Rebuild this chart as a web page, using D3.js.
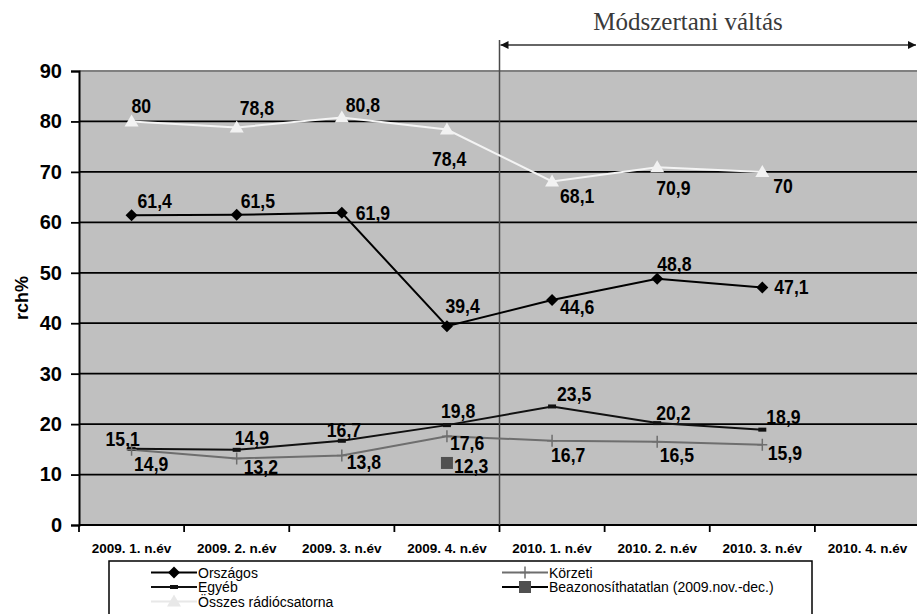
<!DOCTYPE html>
<html>
<head>
<meta charset="utf-8">
<script src="https://cdn.jsdelivr.net/npm/d3@7/dist/d3.min.js"></script>
<style>
  html, body { margin: 0; padding: 0; background: #fff; }
  svg { display: block; font-family: "Liberation Sans", Arial, sans-serif; }
</style>
</head>
<body>
<svg id="chart" width="917" height="614"></svg>
<script>
// Quarter-year periods on the x axis
const categories = ["2009. 1. n.év", "2009. 2. n.év", "2009. 3. n.év", "2009. 4. n.év",
                    "2010. 1. n.év", "2010. 2. n.év", "2010. 3. n.év", "2010. 4. n.év"];
const yTicks = [0, 10, 20, 30, 40, 50, 60, 70, 80, 90];

// Reach (rch%) per series; null = no data for that period
const osszes    = [80, 78.8, 80.8, 78.4, 68.1, 70.9, 70, null];
const orszagos  = [61.4, 61.5, 61.9, 39.4, 44.6, 48.8, 47.1, null];
const egyeb     = [15.1, 14.9, 16.7, 19.8, 23.5, 20.2, 18.9, null];
const korzeti   = [14.9, 13.2, 13.8, 17.6, 16.7, 16.5, 15.9, null];
const beazon    = [null, null, null, 12.3, null, null, null, null];

const seriesNames = ["Országos", "Egyéb", "Összes rádiócsatorna", "Körzeti", "Beazonosíthatatlan (2009.nov.-dec.)"];

// Label offsets from each point (dx, dy to baseline)
const labOff = {
  osszes:   [[0,-8],[3,-12],[4,-5],[-15,36],[8,22],[-1,28],[11,21]],
  orszagos: [[6,-7],[4,-7],[14,7],[-1.5,-13],[8,14],[0,-8],[12,7]],
  egyeb:    [[-26,-3],[-2,-5],[-15,-4],[-6,-7],[5,-5],[-1,-3],[4,-6]],
  korzeti:  [[2.5,21],[7,16],[5,14],[3,14],[-1,21],[2.5,20],[5.5,15]],
  beazon:   [null,null,null,[7,10]]
};

const svg = d3.select("#chart");

const x = d3.scaleBand().domain(categories).range([79, 920]).padding(0);
const y = d3.scaleLinear().domain([0, 90]).range([525, 71]);
const cx = c => x(c) + x.bandwidth() / 2;

// Plot background
svg.append("rect")
  .attr("x", x.range()[0]).attr("y", y(90))
  .attr("width", x.range()[1] - x.range()[0]).attr("height", y(0) - y(90))
  .attr("fill", "#c0c0c0");

// Gridlines
svg.append("g").selectAll("line")
  .data(yTicks.filter(t => t > 0))
  .join("line")
  .attr("x1", x.range()[0]).attr("x2", x.range()[1])
  .attr("y1", d => y(d)).attr("y2", d => y(d))
  .attr("stroke", d => d === 90 ? "#808080" : "#000")
  .attr("stroke-width", d => d === 90 ? 2 : 1.8);

// Y axis
const yAxis = svg.append("g")
  .attr("transform", `translate(${x.range()[0]},0)`)
  .call(d3.axisLeft(y).tickValues(yTicks).tickSize(8).tickPadding(9));
yAxis.select(".domain").attr("stroke", "#000").attr("stroke-width", 2);
yAxis.selectAll(".tick line").attr("stroke", "#000").attr("stroke-width", 1.8);
yAxis.selectAll(".tick text")
  .attr("fill", "#000")
  .style("font-size", "20px").style("font-weight", "bold")
  .style("font-family", "'Liberation Sans', Arial, sans-serif");

// X axis: baseline, boundary ticks and labels
svg.append("line")
  .attr("x1", x.range()[0]).attr("x2", x.range()[1])
  .attr("y1", y(0)).attr("y2", y(0))
  .attr("stroke", "#000").attr("stroke-width", 2);
const boundaries = categories.map(c => x(c)).concat([x.range()[1]]);
svg.append("g").selectAll("line")
  .data(boundaries)
  .join("line")
  .attr("x1", d => d).attr("x2", d => d)
  .attr("y1", y(0)).attr("y2", y(0) + 7)
  .attr("stroke", "#000").attr("stroke-width", 1.8);
svg.append("g").selectAll("text")
  .data(categories)
  .join("text")
  .attr("x", d => cx(d)).attr("y", 553)
  .attr("text-anchor", "middle")
  .style("font-size", "13.5px").style("font-weight", "bold")
  .text(d => d);

// Y axis title
svg.append("text")
  .attr("transform", `translate(28,${(y(0) + y(90)) / 2}) rotate(-90)`)
  .attr("text-anchor", "middle")
  .style("font-size", "18px").style("font-weight", "bold")
  .text("rch%");

// Methodology change marker
const sepX = x(categories[4]);
svg.append("line")
  .attr("x1", sepX).attr("x2", sepX).attr("y1", 40).attr("y2", y(0))
  .attr("stroke", "#4a4a4a").attr("stroke-width", 1.5);

const defs = svg.append("defs");
defs.append("marker").attr("id", "arrEnd")
  .attr("viewBox", "0 0 10 10").attr("refX", 10).attr("refY", 5)
  .attr("markerWidth", 11).attr("markerHeight", 8).attr("markerUnits", "userSpaceOnUse")
  .attr("orient", "auto")
  .append("path").attr("d", "M0,0L10,5L0,10Z").attr("fill", "#111");
defs.append("marker").attr("id", "arrStart")
  .attr("viewBox", "0 0 10 10").attr("refX", 0).attr("refY", 5)
  .attr("markerWidth", 11).attr("markerHeight", 8).attr("markerUnits", "userSpaceOnUse")
  .attr("orient", "auto")
  .append("path").attr("d", "M10,0L0,5L10,10Z").attr("fill", "#111");

svg.append("line")
  .attr("x1", sepX + 1).attr("x2", 916).attr("y1", 45).attr("y2", 45)
  .attr("stroke", "#333").attr("stroke-width", 1.5)
  .attr("marker-start", "url(#arrStart)").attr("marker-end", "url(#arrEnd)");

svg.append("text")
  .attr("x", 688).attr("y", 30)
  .attr("text-anchor", "middle")
  .attr("fill", "#3a3a3a")
  .style("font-family", "'Liberation Serif', 'Times New Roman', serif")
  .style("font-size", "25px")
  .text("Módszertani váltás");

// Series lines
const pts = arr => categories.map((c, i) => ({ c, v: arr[i], i })).filter(d => d.v != null);
const line = d3.line().x(d => cx(d.c)).y(d => y(d.v));

const lineSeries = [
  { key: "korzeti",  data: korzeti,  color: "#6e6e6e", width: 2 },
  { key: "egyeb",    data: egyeb,    color: "#111",    width: 2 },
  { key: "orszagos", data: orszagos, color: "#000",    width: 2 },
  { key: "osszes",   data: osszes,   color: "#f4f4f4", width: 2 }
];
lineSeries.forEach(s => {
  svg.append("path")
    .datum(pts(s.data))
    .attr("d", line)
    .attr("fill", "none")
    .attr("stroke", s.color).attr("stroke-width", s.width);
});

// Markers
const gM = svg.append("g");
gM.selectAll(".tri").data(pts(osszes)).join("path")
  .attr("transform", d => `translate(${cx(d.c)},${y(d.v)})`)
  .attr("d", "M0,-7L7,5L-7,5Z").attr("fill", "#f2f2f2");
gM.selectAll(".dia").data(pts(orszagos)).join("path")
  .attr("transform", d => `translate(${cx(d.c)},${y(d.v)})`)
  .attr("d", "M0,-6L6,0L0,6L-6,0Z").attr("fill", "#000");
gM.selectAll(".dash").data(pts(egyeb)).join("rect")
  .attr("x", d => cx(d.c) - 4).attr("y", d => y(d.v) - 2)
  .attr("width", 8).attr("height", 4).attr("fill", "#111");
gM.selectAll(".plus").data(pts(korzeti)).join("path")
  .attr("transform", d => `translate(${cx(d.c)},${y(d.v)})`)
  .attr("d", "M0,-6V6M-5,0H5").attr("stroke", "#6e6e6e").attr("stroke-width", 1.5);
gM.selectAll(".sq").data(pts(beazon)).join("rect")
  .attr("x", d => cx(d.c) - 6).attr("y", d => y(d.v) - 6)
  .attr("width", 12).attr("height", 12).attr("fill", "#505050");

// Value labels
const fmt = v => String(v).replace(".", ",");
const labelSeries = [
  { key: "osszes", data: osszes }, { key: "orszagos", data: orszagos },
  { key: "egyeb", data: egyeb }, { key: "korzeti", data: korzeti },
  { key: "beazon", data: beazon }
];
const gL = svg.append("g");
labelSeries.forEach(s => {
  pts(s.data).forEach(d => {
    const o = labOff[s.key][d.i];
    gL.append("g")
      .attr("transform", `translate(${cx(d.c) + o[0]},${y(d.v) + o[1]})`)
      .append("text")
      .attr("transform", "scale(0.84,1)")
      .attr("fill", "#000")
      .style("font-size", "21px").style("font-weight", "bold")
      .text(fmt(d.v));
  });
});

// Legend
const leg = svg.append("g");
leg.append("rect")
  .attr("x", 109).attr("y", 561).attr("width", 703).attr("height", 70)
  .attr("fill", "#fff").attr("stroke", "#000").attr("stroke-width", 1.5);

const legItems = [
  { name: seriesNames[0], x: 151, y: 572.5, color: "#000",    mark: "dia" },
  { name: seriesNames[1], x: 151, y: 587,   color: "#111",    mark: "dash" },
  { name: seriesNames[2], x: 151, y: 601.5, color: "#e8e8e8", mark: "tri" },
  { name: seriesNames[3], x: 502, y: 572.5, color: "#6e6e6e", mark: "plus" },
  { name: seriesNames[4], x: 502, y: 587,   color: "#000",    mark: "sq" }
];
legItems.forEach(it => {
  const g = leg.append("g").attr("transform", `translate(${it.x},${it.y})`);
  g.append("line").attr("x1", 0).attr("x2", 46).attr("y1", 0).attr("y2", 0)
    .attr("stroke", it.color).attr("stroke-width", 2);
  const m = 23;
  if (it.mark === "dia") g.append("path").attr("d", `M${m},-6L${m + 6},0L${m},6L${m - 6},0Z`).attr("fill", "#000");
  if (it.mark === "dash") g.append("rect").attr("x", m - 4).attr("y", -2).attr("width", 8).attr("height", 4).attr("fill", "#111");
  if (it.mark === "tri") g.append("path").attr("d", `M${m},-7L${m + 7},5L${m - 7},5Z`).attr("fill", "#e8e8e8");
  if (it.mark === "plus") g.append("path").attr("d", `M${m},-6V6M${m - 5},0H${m + 5}`).attr("stroke", "#6e6e6e").attr("stroke-width", 1.5);
  if (it.mark === "sq") g.append("rect").attr("x", m - 6).attr("y", -6).attr("width", 12).attr("height", 12).attr("fill", "#505050");
  g.append("text").attr("x", 47).attr("y", 5)
    .style("font-size", "14px").attr("fill", "#000")
    .text(it.name);
});
</script>
</body>
</html>
